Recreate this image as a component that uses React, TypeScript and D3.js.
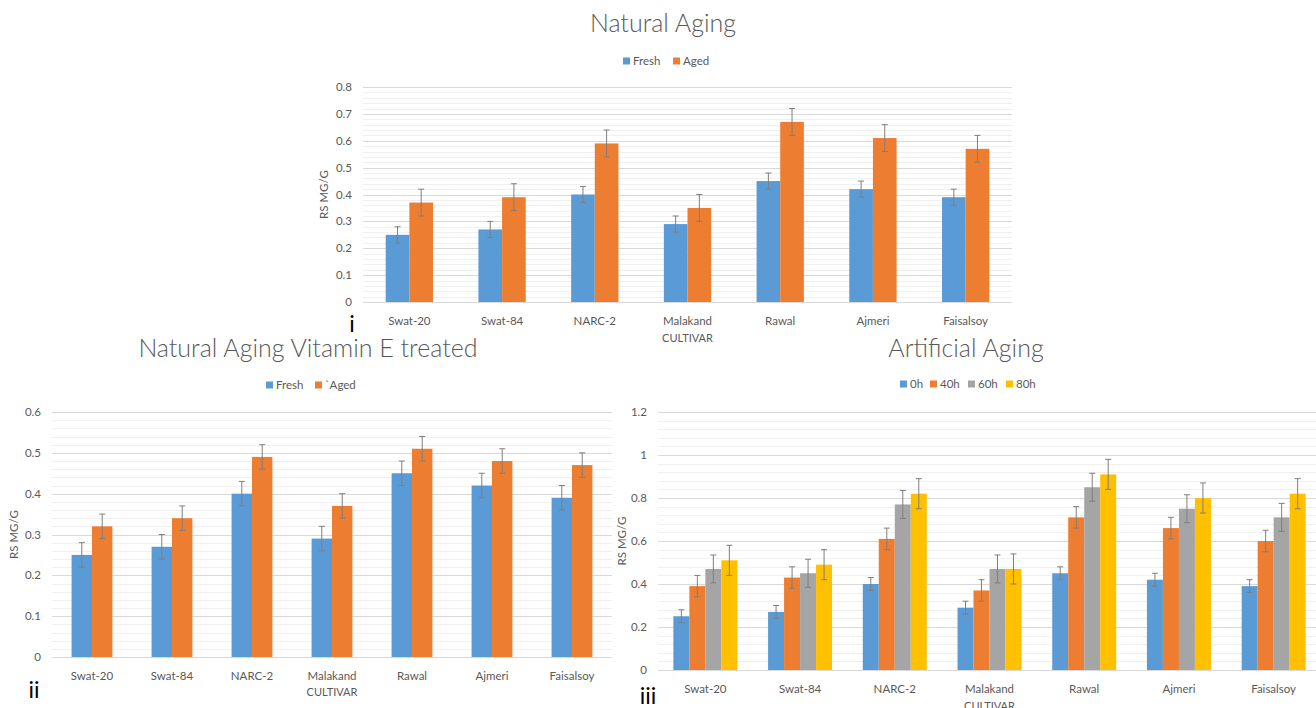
import React from 'react';
import * as d3 from 'd3';

const cultivars = ['Swat-20', 'Swat-84', 'NARC-2', 'Malakand', 'Rawal', 'Ajmeri', 'Faisalsoy'];

// Panel i — Natural Aging
const natFresh = [0.25, 0.27, 0.40, 0.29, 0.45, 0.42, 0.39];
const natFreshErr = [0.03, 0.03, 0.03, 0.03, 0.03, 0.03, 0.03];
const natAged = [0.37, 0.39, 0.59, 0.35, 0.67, 0.61, 0.57];
const natAgedErr = [0.05, 0.05, 0.05, 0.05, 0.05, 0.05, 0.05];

// Panel ii — Natural Aging Vitamin E treated
const vitFresh = [0.25, 0.27, 0.40, 0.29, 0.45, 0.42, 0.39];
const vitFreshErr = [0.03, 0.03, 0.03, 0.03, 0.03, 0.03, 0.03];
const vitAged = [0.32, 0.34, 0.49, 0.37, 0.51, 0.48, 0.47];
const vitAgedErr = [0.03, 0.03, 0.03, 0.03, 0.03, 0.03, 0.03];

// Panel iii — Artificial Aging
const art0h = [0.25, 0.27, 0.40, 0.29, 0.45, 0.42, 0.39];
const art0hErr = [0.03, 0.03, 0.03, 0.03, 0.03, 0.03, 0.03];
const art40h = [0.39, 0.43, 0.61, 0.37, 0.71, 0.66, 0.60];
const art40hErr = [0.05, 0.05, 0.05, 0.05, 0.05, 0.05, 0.05];
const art60h = [0.47, 0.45, 0.77, 0.47, 0.85, 0.75, 0.71];
const art60hErr = [0.065, 0.065, 0.065, 0.065, 0.065, 0.065, 0.065];
const art80h = [0.51, 0.49, 0.82, 0.47, 0.91, 0.80, 0.82];
const art80hErr = [0.07, 0.07, 0.07, 0.07, 0.07, 0.07, 0.07];

const natTicks = [0, 0.1, 0.2, 0.3, 0.4, 0.5, 0.6, 0.7, 0.8];
const vitTicks = [0, 0.1, 0.2, 0.3, 0.4, 0.5, 0.6];
const artTicks = [0, 0.2, 0.4, 0.6, 0.8, 1, 1.2];

const BLUE = '#5B9BD5';
const ORANGE = '#ED7D31';
const GRAY = '#A5A5A5';
const YELLOW = '#FFC000';
const TXT = '#595959';
const FONT = 'Lato, "Open Sans", sans-serif';

type Series = { name: string; values: number[]; errors: number[]; color: string };

type PanelProps = {
  left: number; right: number; top: number; bottom: number;
  ticks: number[]; minorStep: number;
  series: Series[];
  title: string; titleX: number; titleY: number;
  legendX: number; legendY: number; legendGaps: number[];
  yLabelX: number;
  xLabelY: number;
  roman: string; romanX: number; romanY: number;
  clipRight?: number;
};

function Panel(p: PanelProps) {
  const yMax = p.ticks[p.ticks.length - 1];
  const y = d3.scaleLinear().domain([0, yMax]).range([p.bottom, p.top]);
  const x = d3.scaleBand<string>().domain(cultivars).range([p.left, p.right]).paddingInner(0).paddingOuter(0);
  const n = p.series.length;
  const gap = 1.92;
  const bw = x.bandwidth() / (n + gap);
  const inner = d3.scaleBand<number>().domain(d3.range(n)).range([0, bw * n]);
  const minor = d3.range(0, yMax + 1e-9, p.minorStep).filter(v => !p.ticks.some(t => Math.abs(t - v) < 1e-9));
  const gridRight = p.clipRight ?? p.right;
  const fmt = (v: number) => String(+v.toFixed(2));

  let lx = p.legendX;
  const legendItems = p.series.map((s, i) => {
    const item = { s, x: lx };
    lx += p.legendGaps[i] ?? 0;
    return item;
  });

  return (
    <g>
      <text x={p.titleX} y={p.titleY} textAnchor="middle" fontSize={25} fontWeight={300} fill={TXT} fontFamily={FONT}>{p.title}</text>
      {legendItems.map(({ s, x: ix }) => (
        <g key={s.name}>
          <rect x={ix} y={p.legendY - 3.5} width={7} height={7} fill={s.color} />
          <text x={ix + 10} y={p.legendY + 4} fontSize={11.5} fill={TXT} fontFamily={FONT}>{s.name}</text>
        </g>
      ))}
      {minor.map(v => (
        <line key={'m' + v} x1={p.left} x2={gridRight} y1={Math.round(y(v)) + 0.5} y2={Math.round(y(v)) + 0.5} stroke="#F0F0F0" strokeWidth={1} />
      ))}
      {p.ticks.map(v => (
        <line key={'t' + v} x1={p.left} x2={gridRight} y1={Math.round(y(v)) + 0.5} y2={Math.round(y(v)) + 0.5} stroke="#D9D9D9" strokeWidth={1} />
      ))}
      {p.ticks.map(v => (
        <text key={'l' + v} x={p.left - 11} y={y(v) + 4} textAnchor="end" fontSize={11.5} fill={TXT} fontFamily={FONT}>{fmt(v)}</text>
      ))}
      {cultivars.map((c, ci) => {
        const gx = (x(c) as number) + (x.bandwidth() - bw * n) / 2;
        return (
          <g key={c}>
            {p.series.map((s, si) => {
              const v = s.values[ci];
              const e = s.errors[ci];
              const bx = gx + (inner(si) as number);
              const cx = bx + bw / 2;
              return (
                <g key={s.name}>
                  <rect x={bx} y={y(v)} width={bw} height={y(0) - y(v)} fill={s.color} />
                  <line x1={cx} x2={cx} y1={y(v + e)} y2={y(v - e)} stroke="#7F7F7F" strokeWidth={1} />
                  <line x1={cx - 3} x2={cx + 3} y1={y(v + e)} y2={y(v + e)} stroke="#7F7F7F" strokeWidth={1} />
                  <line x1={cx - 3} x2={cx + 3} y1={y(v - e)} y2={y(v - e)} stroke="#7F7F7F" strokeWidth={1} />
                </g>
              );
            })}
            <text x={(x(c) as number) + x.bandwidth() / 2} y={p.bottom + 23} textAnchor="middle" fontSize={11.5} fill={TXT} fontFamily={FONT}>{c}</text>
          </g>
        );
      })}
      <line x1={p.left} x2={gridRight} y1={Math.round(y(0)) + 0.5} y2={Math.round(y(0)) + 0.5} stroke="#D9D9D9" strokeWidth={1} />
      <text transform={`translate(${p.yLabelX},${(p.top + p.bottom) / 2}) rotate(-90)`} textAnchor="middle" fontSize={11.5} fill={TXT} fontFamily={FONT}>RS MG/G</text>
      <text x={(p.left + p.right) / 2} y={p.xLabelY} textAnchor="middle" fontSize={11} fill={TXT} fontFamily={FONT}>CULTIVAR</text>
      <text x={p.romanX} y={p.romanY} textAnchor="middle" fontSize={23} fill="#000" fontFamily={FONT}>{p.roman}</text>
    </g>
  );
}

export default function App() {
  return (
    <svg width={1316} height={708} style={{ position: 'absolute', left: 0, top: 0, display: 'block', background: '#fff' }}>
      <rect x={0} y={0} width={1316} height={708} fill="#fff" />
      <Panel
        left={363} right={1012} top={87} bottom={302}
        ticks={natTicks} minorStep={0.02}
        series={[
          { name: 'Fresh', values: natFresh, errors: natFreshErr, color: BLUE },
          { name: 'Aged', values: natAged, errors: natAgedErr, color: ORANGE },
        ]}
        title="Natural Aging" titleX={663} titleY={32}
        legendX={623} legendY={61} legendGaps={[50]}
        yLabelX={328}
        xLabelY={342}
        roman="i" romanX={352} romanY={332}
      />
      <Panel
        left={52} right={612} top={412} bottom={657}
        ticks={vitTicks} minorStep={0.02}
        series={[
          { name: 'Fresh', values: vitFresh, errors: vitFreshErr, color: BLUE },
          { name: '`Aged', values: vitAged, errors: vitAgedErr, color: ORANGE },
        ]}
        title="Natural Aging Vitamin E treated" titleX={308} titleY={357}
        legendX={266} legendY={385} legendGaps={[49]}
        yLabelX={18}
        xLabelY={696}
        roman="ii" romanX={34} romanY={698}
      />
      <Panel
        left={658} right={1321} top={412} bottom={670}
        ticks={artTicks} minorStep={0.04}
        series={[
          { name: '0h', values: art0h, errors: art0hErr, color: BLUE },
          { name: '40h', values: art40h, errors: art40hErr, color: ORANGE },
          { name: '60h', values: art60h, errors: art60hErr, color: GRAY },
          { name: '80h', values: art80h, errors: art80hErr, color: YELLOW },
        ]}
        title="Artificial Aging" titleX={966} titleY={357}
        legendX={900} legendY={384} legendGaps={[30, 38, 38]}
        yLabelX={626}
        xLabelY={710}
        roman="iii" romanX={648} romanY={704}
        clipRight={1316}
      />
    </svg>
  );
}
